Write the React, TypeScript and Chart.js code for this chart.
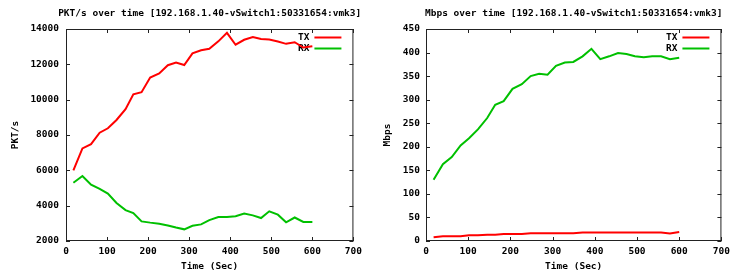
import React, { useEffect, useRef } from "react";
import { Chart, registerables } from "chart.js";

Chart.register(...registerables);

// ---- data ----
const timeSec = [18, 40, 61, 82, 102, 123, 145, 164, 184, 205, 227, 248, 268, 288, 308, 329, 349, 371, 392, 413, 434, 455, 475, 495, 516, 536, 557, 578, 600];
const pktTx = [6000, 7240, 7480, 8130, 8380, 8850, 9460, 10300, 10420, 11250, 11480, 11950, 12100, 11960, 12620, 12800, 12880, 13300, 13780, 13110, 13390, 13540, 13430, 13400, 13290, 13160, 13250, 12950, 13020];
const pktRx = [5300, 5680, 5190, 4950, 4680, 4150, 3750, 3580, 3110, 3040, 2980, 2880, 2760, 2660, 2860, 2940, 3180, 3360, 3360, 3400, 3550, 3450, 3300, 3680, 3490, 3060, 3330, 3080, 3080];
const mbpsTx = [8, 10, 10, 10, 12, 12, 13.5, 13.5, 15, 15, 15, 16.5, 16.5, 16.5, 16.5, 16.5, 16.5, 18, 18, 18, 18, 18, 18, 18, 18, 18, 18, 16, 19];
const mbpsRx = [130, 163, 178, 203, 218, 237, 261, 289, 297, 323, 333, 350, 355, 353, 372, 379, 380, 392, 408, 386, 392, 399, 397, 392, 390, 392, 392, 386, 389];

const seriesLabels = ["TX", "RX"];
const seriesColors = ["#ff0000", "#00c000"];
const xTitle = "Time (Sec)";
const leftTitle = "PKT/s over time [192.168.1.40-vSwitch1:50331654:vmk3]";
const rightTitle = "Mbps over time [192.168.1.40-vSwitch1:50331654:vmk3]";

const FONT_FAMILY = '"DejaVu Sans Mono", monospace';
const FONT_SIZE = 9.5;
const font = { family: FONT_FAMILY, size: FONT_SIZE, weight: "bold" as const };
const LINE_W = 2;

type Params = {
  title: string;
  yTitle: string;
  tx: number[];
  rx: number[];
  yMin: number;
  yMax: number;
  yStep: number;
  yWidth: number;
  padRight: number;
  yTickPad: number;
  yTitlePad: number;
  width: number;
};

function makePlugin(p: Params) {
  return {
    id: "gnuplotFrame",
    beforeDatasetsDraw(chart: any) {
      const { ctx, chartArea: a, scales } = chart;
      ctx.save();
      ctx.strokeStyle = "#222";
      ctx.lineWidth = 1;
      ctx.strokeRect(a.left + 0.5, a.top + 0.5, a.right - a.left - 1, a.bottom - a.top - 1);
      const tl = 4;
      ctx.beginPath();
      for (const t of scales.x.ticks) {
        const px = Math.round(scales.x.getPixelForValue(t.value)) + 0.5;
        ctx.moveTo(px, a.bottom);
        ctx.lineTo(px, a.bottom - tl);
        ctx.moveTo(px, a.top);
        ctx.lineTo(px, a.top + tl);
      }
      for (const t of scales.y.ticks) {
        const py = Math.round(scales.y.getPixelForValue(t.value)) + 0.5;
        ctx.moveTo(a.left, py);
        ctx.lineTo(a.left + tl, py);
        ctx.moveTo(a.right, py);
        ctx.lineTo(a.right - tl, py);
      }
      ctx.stroke();
      // key
      ctx.font = `bold ${FONT_SIZE}px ${FONT_FAMILY}`;
      ctx.fillStyle = "#000";
      ctx.textAlign = "right";
      ctx.textBaseline = "middle";
      chart.data.datasets.forEach((ds: any, i: number) => {
        const y = a.top + 8.5 + i * 11;
        ctx.fillText(ds.label, a.right - 44, y);
        ctx.strokeStyle = ds.borderColor;
        ctx.lineWidth = LINE_W;
        ctx.beginPath();
        ctx.moveTo(a.right - 39, y);
        ctx.lineTo(a.right - 12, y);
        ctx.stroke();
      });
      ctx.restore();
    },
    afterDraw(chart: any) {
      const { ctx, chartArea: a } = chart;
      ctx.save();
      ctx.font = `bold ${FONT_SIZE}px ${FONT_FAMILY}`;
      ctx.fillStyle = "#000";
      ctx.textAlign = "center";
      ctx.textBaseline = "middle";
      ctx.fillText(p.title, (a.left + a.right) / 2, 14);
      ctx.restore();
    },
  };
}

function makeConfig(p: Params): any {
  return {
    type: "line",
    data: {
      datasets: [p.tx, p.rx].map((vals, i) => ({
        label: seriesLabels[i],
        data: timeSec.map((t, j) => ({ x: t, y: vals[j] })),
        borderColor: seriesColors[i],
        backgroundColor: seriesColors[i],
        borderWidth: LINE_W,
        pointRadius: 0,
        fill: false,
        tension: 0,
      })),
    },
    options: {
      responsive: false,
      animation: false,
      devicePixelRatio: 1,
      layout: { padding: { top: 29, right: p.padRight, left: 0, bottom: 0 } },
      plugins: {
        legend: { display: false },
        title: { display: false },
        tooltip: { enabled: false },
      },
      scales: {
        x: {
          type: "linear",
          min: 0,
          max: 700,
          ticks: { stepSize: 100, padding: 5, color: "#000", font, maxRotation: 0, callback: (v: any) => String(v) },
          grid: { display: false, drawTicks: false, tickLength: 0 },
          border: { display: false },
          title: { display: true, text: xTitle, color: "#000", font, padding: { top: 0, bottom: 1 } },
          afterFit: (s: any) => {
            s.height = 32;
          },
        },
        y: {
          type: "linear",
          min: p.yMin,
          max: p.yMax,
          ticks: { stepSize: p.yStep, padding: p.yTickPad, color: "#000", font, callback: (v: any) => String(v) },
          grid: { display: false, drawTicks: false, tickLength: 0 },
          border: { display: false },
          title: { display: true, text: p.yTitle, color: "#000", font, padding: { top: p.yTitlePad, bottom: 0 } },
          afterFit: (s: any) => {
            s.width = p.yWidth;
          },
        },
      },
    },
    plugins: [makePlugin(p)],
  };
}

function GnuChart({ p }: { p: Params }) {
  const ref = useRef<HTMLCanvasElement | null>(null);
  useEffect(() => {
    if (!ref.current) return;
    const chart = new Chart(ref.current, makeConfig(p));
    return () => chart.destroy();
  }, []);
  return <canvas ref={ref} width={p.width} height={273} style={{ width: p.width, height: 273, display: "block" }} />;
}

const leftParams: Params = {
  title: leftTitle,
  yTitle: "PKT/s",
  tx: pktTx,
  rx: pktRx,
  yMin: 2000,
  yMax: 14000,
  yStep: 2000,
  yWidth: 66,
  padRight: 13,
  yTickPad: 7,
  yTitlePad: 10,
  width: 367,
};

const rightParams: Params = {
  title: rightTitle,
  yTitle: "Mbps",
  tx: mbpsTx,
  rx: mbpsRx,
  yMin: 0,
  yMax: 450,
  yStep: 50,
  yWidth: 59,
  padRight: 10,
  yTickPad: 6,
  yTitlePad: 14.5,
  width: 368,
};

export default function App() {
  return (
    <div style={{ position: "absolute", left: 0, top: 0, width: 735, height: 273, display: "flex", background: "#fff" }}>
      <GnuChart p={leftParams} />
      <GnuChart p={rightParams} />
    </div>
  );
}
